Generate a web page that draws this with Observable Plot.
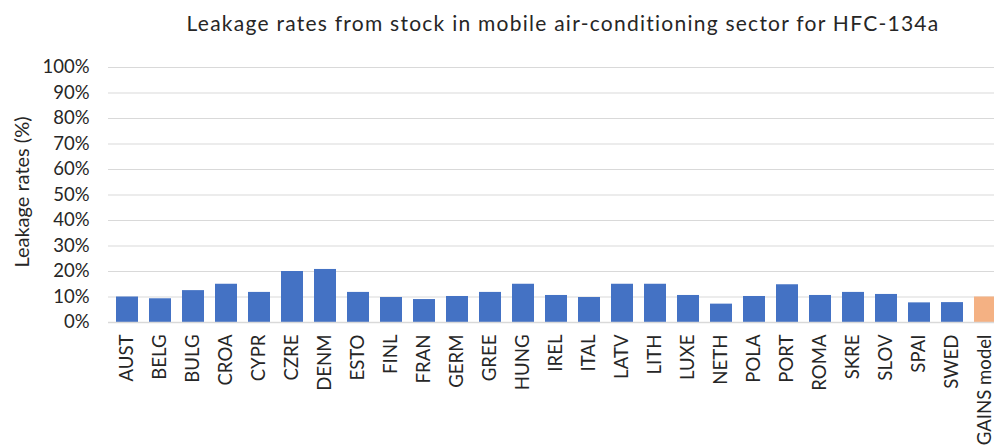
<!DOCTYPE html>
<html>
<head>
<meta charset="utf-8">
<script src="https://cdn.jsdelivr.net/npm/d3@7"></script>
<script src="https://cdn.jsdelivr.net/npm/@observablehq/plot@0.6"></script>
<style>
  html, body { margin: 0; padding: 0; background: #fff; overflow: hidden; width: 994px; height: 448px; }
  #title { position: absolute; top: 9px; left: 563px; transform: translateX(-50%); white-space: nowrap; z-index: 2;
           font-family: Lato, "Open Sans", sans-serif; font-size: 21px; letter-spacing: 1.25px; color: #262626; line-height: 28px; }
  #chart { position: absolute; top: 0; left: 0; z-index: 1; }
</style>
</head>
<body>
<div id="title">Leakage rates from stock in mobile air-conditioning sector for HFC-134a</div>
<div id="chart"></div>
<script>
const categories = ["AUST","BELG","BULG","CROA","CYPR","CZRE","DENM","ESTO","FINL","FRAN","GERM","GREE","HUNG","IREL","ITAL","LATV","LITH","LUXE","NETH","POLA","PORT","ROMA","SKRE","SLOV","SPAI","SWED","GAINS model"];
const values = [0.10, 0.093, 0.125, 0.15, 0.118, 0.20, 0.208, 0.118, 0.098, 0.09, 0.102, 0.118, 0.15, 0.106, 0.098, 0.15, 0.15, 0.106, 0.072, 0.102, 0.148, 0.106, 0.118, 0.11, 0.077, 0.078, 0.10];
const groups = categories.map(c => c === "GAINS model" ? "model" : "country");
const yTicks = [0, 0.1, 0.2, 0.3, 0.4, 0.5, 0.6, 0.7, 0.8, 0.9, 1.0];
const yLabel = "Leakage rates (%)";

const data = categories.map((c, i) => ({category: c, value: values[i], group: groups[i]}));

const chart = Plot.plot({
  width: 994,
  height: 448,
  marginTop: 67,
  marginBottom: 126,
  marginLeft: 108,
  marginRight: -10,
  style: {fontFamily: "Lato, 'Open Sans', sans-serif", fontSize: "18px", color: "#262626", background: "transparent", overflow: "hidden"},
  x: {domain: categories, paddingInner: 0.32, paddingOuter: 0.16, label: null},
  y: {domain: [0, 1], label: null},
  color: {domain: ["country", "model"], range: ["#4472c4", "#f4b183"]},
  marks: [
    Plot.gridY(yTicks, {stroke: "#d9d9d9", strokeOpacity: 1, strokeWidth: 1}),
    Plot.barY(data, {x: "category", y: "value", fill: "group"}),
    Plot.ruleY([0], {stroke: "#d9d9d9", strokeWidth: 1.5}),
    Plot.axisY(yTicks, {tickFormat: d3.format(".0%"), tickSize: 0, tickPadding: 19, fontSize: 18.5, label: null}),
    Plot.text([yLabel], {frameAnchor: "left", textAnchor: "middle", rotate: -90, dx: -86, dy: -3, fontSize: 20, fill: "#262626", letterSpacing: 0.8}),
    Plot.axisX({tickRotate: -90, tickSize: 0, tickPadding: 12, fontSize: 18.6})
  ]
});
document.getElementById("chart").append(chart);
</script>
</body>
</html>
